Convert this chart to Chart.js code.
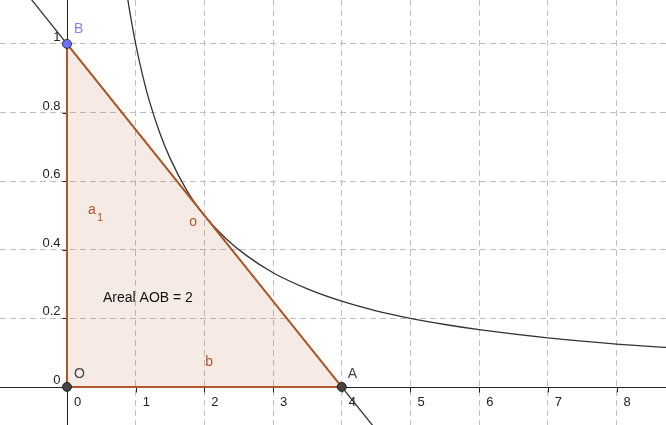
<!DOCTYPE html>
<html>
<head>
<meta charset="utf-8">
<script src="https://cdn.jsdelivr.net/npm/chart.js@4.4.0/dist/chart.umd.min.js"></script>
<style>
  html, body { margin: 0; padding: 0; background: #fff; }
  #wrap { width: 666px; height: 425px; }
</style>
</head>
<body>
<div id="wrap"><canvas id="areaChart" width="666" height="425"></canvas></div>
<script>
// view window
var xRange = [-0.975, 8.72];
var yRange = [-0.111, 1.128];
var xTicks = [1, 2, 3, 4, 5, 6, 7, 8];
var yTicks = [0.2, 0.4, 0.6, 0.8, 1];
var xTickLabels = ['0', '1', '2', '3', '4', '5', '6', '7', '8'];
var yTickLabels = ['0', '0.2', '0.4', '0.6', '0.8', '1'];

// curve
var curveX = [0.87, 0.9, 0.95, 1, 1.1, 1.2, 1.35, 1.5, 1.75, 2, 2.3, 2.6, 3, 3.5, 4, 4.5, 5, 5.5, 6, 7, 8, 8.8];
var curveY = [1.15, 1.111, 1.053, 1, 0.909, 0.833, 0.741, 0.667, 0.571, 0.5, 0.435, 0.385, 0.333, 0.286, 0.25, 0.222, 0.2, 0.182, 0.167, 0.143, 0.125, 0.114];

// tangent line through B and A
var tangentX = [-1, 4.5];
var tangentY = [1.25, -0.125];

// points O, A, B
var pointNames = ['O', 'A', 'B'];
var pointX = [0, 4, 0];
var pointY = [0, 0, 1];

var brown = 'rgb(178, 86, 44)';
var axisColor = '#222';
var font = '"Liberation Sans", Arial, sans-serif';

function zip(xs, ys) {
    return xs.map(function (x, i) { return { x: x, y: ys[i] }; });
}

var O = { x: pointX[0], y: pointY[0] };
var A = { x: pointX[1], y: pointY[1] };
var B = { x: pointX[2], y: pointY[2] };

var geoPlugin = {
    id: 'geo',
    beforeDatasetsDraw: function (chart) {
        var ctx = chart.ctx;
        var xs = chart.scales.x, ys = chart.scales.y;
        var x0 = Math.round(xs.getPixelForValue(0)) + 0.5;
        var y0 = Math.round(ys.getPixelForValue(0)) + 0.5;
        ctx.save();
        ctx.strokeStyle = axisColor;
        ctx.lineWidth = 1;
        ctx.beginPath();
        ctx.moveTo(0, y0); ctx.lineTo(chart.width, y0);
        ctx.moveTo(x0, 0); ctx.lineTo(x0, chart.height);
        xTicks.forEach(function (v) {
            var px = Math.round(xs.getPixelForValue(v)) + 0.5;
            ctx.moveTo(px, y0); ctx.lineTo(px, y0 + 5);
        });
        yTicks.forEach(function (v) {
            var py = Math.round(ys.getPixelForValue(v)) + 0.5;
            ctx.moveTo(x0 - 5, py); ctx.lineTo(x0, py);
        });
        ctx.stroke();

        ctx.fillStyle = '#222';
        ctx.font = '13px ' + font;
        ctx.textAlign = 'left';
        ctx.textBaseline = 'alphabetic';
        xTickLabels.forEach(function (t) {
            var px = xs.getPixelForValue(Number(t));
            ctx.fillText(t, px + 7, y0 + 18);
        });
        ctx.textAlign = 'right';
        yTickLabels.forEach(function (t) {
            var py = ys.getPixelForValue(Number(t));
            ctx.fillText(t, x0 - 7, py - 3);
        });
        ctx.restore();
    },
    afterDatasetsDraw: function (chart) {
        var ctx = chart.ctx;
        var xs = chart.scales.x, ys = chart.scales.y;
        function px(p) { return [xs.getPixelForValue(p.x), ys.getPixelForValue(p.y)]; }
        ctx.save();
        ctx.textAlign = 'left';
        ctx.textBaseline = 'alphabetic';
        ctx.font = '14px ' + font;

        var b = px(B), o = px(O), a = px(A);
        ctx.fillStyle = 'rgb(128, 128, 255)';
        ctx.fillText('B', b[0] + 7, b[1] - 11);
        ctx.fillStyle = '#444';
        ctx.fillText('O', o[0] + 7, o[1] - 9);
        ctx.fillText('A', a[0] + 6, a[1] - 9);

        // segment names
        ctx.fillStyle = brown;
        var mOB = px({ x: 0, y: 0.5 });
        ctx.fillText('a', mOB[0] + 21, mOB[1] - 1);
        ctx.font = '11px ' + font;
        ctx.fillText('1', mOB[0] + 30, mOB[1] + 6);
        ctx.font = '14px ' + font;
        var mAB = px({ x: 2, y: 0.5 });
        ctx.fillText('o', mAB[0] - 15, mAB[1] + 11);
        var mOA = px({ x: 2, y: 0 });
        ctx.fillText('b', mOA[0] + 1, mOA[1] - 21);

        ctx.fillStyle = '#111';
        var mid = px({ x: 0, y: 0.25 });
        ctx.fillText('Areal AOB = 2', mid[0] + 36, mid[1] + 1);
        ctx.restore();
    }
};

var ctx = document.getElementById('areaChart').getContext('2d');
var chart = new Chart(ctx, {
    type: 'scatter',
    data: {
        datasets: [
            {   // triangle fill under AB
                data: [B, A],
                showLine: true,
                fill: 'origin',
                backgroundColor: 'rgba(178, 86, 44, 0.12)',
                borderWidth: 0,
                borderColor: 'rgba(0,0,0,0)',
                pointRadius: 0,
                order: 5
            },
            {   // tangent line
                data: zip(tangentX, tangentY),
                showLine: true,
                borderColor: '#333',
                borderWidth: 1.3,
                pointRadius: 0,
                order: 4
            },
            {   // curve
                data: zip(curveX, curveY),
                showLine: true,
                borderColor: '#333',
                borderWidth: 1.3,
                cubicInterpolationMode: 'monotone',
                pointRadius: 0,
                order: 3
            },
            {   // triangle edges
                data: [B, O, A, B],
                showLine: true,
                borderColor: brown,
                borderWidth: 2,
                pointRadius: 0,
                order: 2
            },
            {   // points
                data: zip(pointX, pointY),
                showLine: false,
                pointRadius: 4.5,
                pointBorderWidth: 1,
                pointBackgroundColor: ['#444', '#444', 'rgb(110, 110, 255)'],
                pointBorderColor: ['#222', '#222', '#333'],
                order: 1
            }
        ]
    },
    options: {
        responsive: false,
        animation: false,
        devicePixelRatio: 1,
        layout: { padding: 0, autoPadding: false },
        plugins: {
            legend: { display: false },
            tooltip: { enabled: false }
        },
        scales: {
            x: {
                type: 'linear',
                min: xRange[0],
                max: xRange[1],
                ticks: { display: false },
                border: { display: false, dash: [6, 4] },
                grid: { color: '#c0c0c0', drawTicks: false },
                afterBuildTicks: function (s) { s.ticks = xTicks.map(function (v) { return { value: v }; }); },
                afterFit: function (s) { s.height = 0; }
            },
            y: {
                type: 'linear',
                min: yRange[0],
                max: yRange[1],
                ticks: { display: false },
                border: { display: false, dash: [6, 4] },
                grid: { color: '#c0c0c0', drawTicks: false },
                afterBuildTicks: function (s) { s.ticks = yTicks.map(function (v) { return { value: v }; }); },
                afterFit: function (s) { s.width = 0; }
            }
        }
    },
    plugins: [geoPlugin]
});
</script>
</body>
</html>
